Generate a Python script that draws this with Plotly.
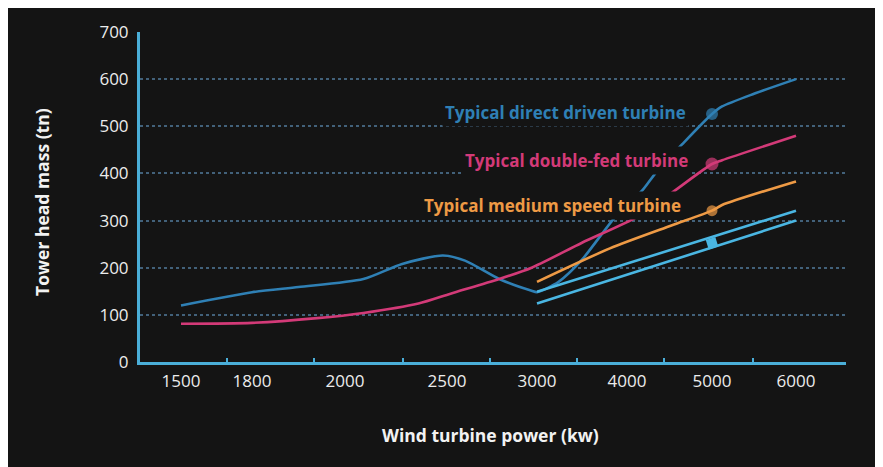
import numpy as np
import plotly.graph_objects as go

# ---- data (kW, tonnes) ----
tick_kw = [1500, 1800, 2000, 2500, 3000, 4000, 5000, 6000]
tick_labels = ["1500", "1800", "2000", "2500", "3000", "4000", "5000", "6000"]

direct_kw = [1500, 1800, 1900, 2090, 2280, 2480, 2600, 2790, 2970, 3000, 3240, 3500, 3870, 4180, 4350, 4650, 5000, 5120, 5500, 6000]
direct_t = [120, 148, 159, 176, 208, 226, 215, 176, 151, 148, 170, 217, 308, 364, 404, 462, 526, 542, 569, 600]

double_kw = [1500, 1800, 1940, 2090, 2360, 2520, 2790, 2970, 3500, 4120, 4520, 5000, 5120, 6000]
double_t = [81, 83, 93, 104, 124, 145, 176, 200, 253, 308, 358, 420, 428, 480]

medium_kw = [3000, 3810, 4530, 5000, 5120, 6000]
medium_t = [170, 241, 290, 321, 333, 383]

fusion_hi_kw = [3000, 6000]
fusion_hi_t = [149, 321]
fusion_lo_kw = [3000, 6000]
fusion_lo_t = [124, 300]

marker_kw = 5000
direct_marker = 526
double_marker = 420
medium_marker = 321
fusion_marker = 252

# ---- layout helpers (page-pixel positions along the x axis) ----
tick_pos = [181, 252, 345, 447, 537, 627, 712, 796]
edge_pos = [140, 227, 314, 403, 490, 577, 664, 753]


def xpos(kw):
    return np.interp(kw, tick_kw, tick_pos)


BG = "#141414"
AXIS = "#4aaed8"
GRID = "#42617a"
C_DIRECT = "#2f80b5"
C_DOUBLE = "#d33a78"
C_MEDIUM = "#ee9a45"
C_FUSION = "#4ab6e2"
FONT = "Open Sans"

fig = go.Figure()


def line(xs, ys, color):
    fig.add_trace(go.Scatter(x=xpos(xs), y=ys, mode="lines",
                             line=dict(color=color, width=2.6, shape="spline", smoothing=0.7),
                             hoverinfo="skip", showlegend=False))


line(direct_kw, direct_t, C_DIRECT)
line(double_kw, double_t, C_DOUBLE)
line(medium_kw, medium_t, C_MEDIUM)
line(fusion_hi_kw, fusion_hi_t, C_FUSION)
line(fusion_lo_kw, fusion_lo_t, C_FUSION)

fig.add_trace(go.Scatter(x=xpos([marker_kw] * 3), y=[direct_marker, double_marker, medium_marker],
                         mode="markers",
                         marker=dict(color=[C_DIRECT, C_DOUBLE, C_MEDIUM], size=[12, 13, 11], line=dict(width=0)),
                         showlegend=False, hoverinfo="skip"))
fig.add_trace(go.Scatter(x=xpos([marker_kw]), y=[fusion_marker], mode="markers",
                         marker=dict(color=C_FUSION, size=10, symbol="square", angle=-17, line=dict(width=0)),
                         showlegend=False, hoverinfo="skip"))

# dummy trace on the overlay axis for the small bin tick marks
fig.add_trace(go.Scatter(x=[140], y=[0], xaxis="x2", mode="markers", marker=dict(opacity=0),
                         showlegend=False, hoverinfo="skip"))

# page offset of 8px (body margin); plot area in page pixels: x 140..846, y 24..362
OFF = 8
W, H = 883, 467
PL, PR, PT, PB = 140, 846, 24, 362
L, R, T, B = PL - OFF, W - (PR - OFF), PT - OFF, H - (PB - OFF)
pw, ph = PR - PL, PB - PT


def px(x):
    return (x - PL) / pw


def py(y):
    return (PB - y) / ph


lab_font = dict(family=FONT, size=17, weight=700)
annos = [
    dict(x=689, y=530, text="Typical direct driven turbine", color=C_DIRECT),
    dict(x=691, y=428, text="Typical double-fed turbine", color=C_DOUBLE),
    dict(x=684, y=331, text="Typical medium speed turbine", color=C_MEDIUM),
    dict(x=867, y=151, text="FusionDrive<sup>TM</sup> 5M TC1-3", color=C_FUSION),
]
for a in annos:
    fig.add_annotation(x=a["x"], y=a["y"], xref="x", yref="y", text=a["text"], showarrow=False,
                       xanchor="right", yanchor="middle", bgcolor=BG, borderpad=2,
                       font=dict(color=a["color"], **lab_font))

fig.add_annotation(x=px(490), y=py(437), xref="paper", yref="paper", text="Wind turbine power (kw)",
                   showarrow=False, xanchor="center", yanchor="middle",
                   font=dict(family=FONT, size=17.5, weight=700, color="#f2f2f2"))
fig.add_annotation(x=px(42), y=py(198), xref="paper", yref="paper", text="Tower head mass (tn)",
                   showarrow=False, xanchor="center", yanchor="middle", textangle=-90,
                   font=dict(family=FONT, size=17.5, weight=700, color="#f2f2f2"))

fig.update_layout(
    width=W, height=H,
    margin=dict(l=L, r=R, t=T, b=B),
    paper_bgcolor=BG, plot_bgcolor=BG,
    xaxis=dict(range=[PL, PR], tickmode="array", tickvals=list(xpos(tick_kw)), ticktext=tick_labels,
               showgrid=False, zeroline=False, showline=True, linecolor=AXIS, linewidth=3,
               ticks="", ticklabelstandoff=2,
               tickfont=dict(family=FONT, size=17, color="#ececec", weight=500)),
    xaxis2=dict(range=[PL, PR], overlaying="x", anchor="y", side="bottom", tickmode="array",
                tickvals=edge_pos, ticks="inside", ticklen=4, tickwidth=2, tickcolor=AXIS,
                showticklabels=False, showgrid=False, zeroline=False, showline=False),
    yaxis=dict(range=[0, 700], tickmode="array", tickvals=[0, 100, 200, 300, 400, 500, 600, 700],
               showgrid=True, gridcolor=GRID, griddash="dot", gridwidth=1.5,
               zeroline=False, showline=True, linecolor=AXIS, linewidth=3, ticks="",
               ticklabelstandoff=5,
               tickfont=dict(family=FONT, size=17, color="#ececec", weight=500)),
)

fig.write_html("out.html")
